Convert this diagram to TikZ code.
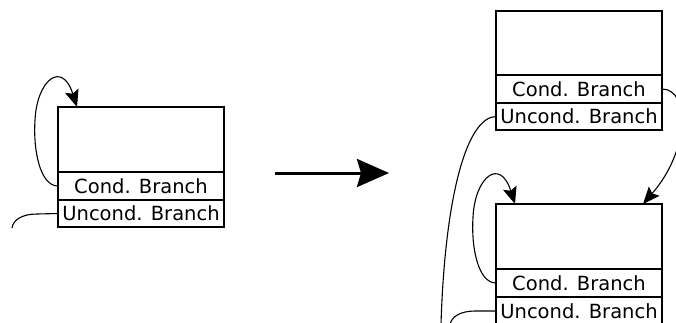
\documentclass[tikz,border=0pt]{standalone}
\usepackage{fontspec}
\setmainfont{DejaVu Sans}
\usetikzlibrary{arrows.meta}
\begin{document}
\begin{tikzpicture}[x=1pt,y=-1pt,
  cell/.style={draw, rectangle, line width=1.3pt, minimum width=166pt, inner sep=0pt, outer sep=0pt, anchor=north west, font=\fontsize{19.5}{22}\selectfont},
  link/.style={line width=1.1pt},
  tip/.style={-{Stealth[length=17pt,width=14pt,inset=3pt]}}]
\useasboundingbox (0,0) rectangle (676,322);
\clip (0,0) rectangle (676,322);
% left block
\node[cell, minimum height=65pt] (mainA) at (58,107) {};
\node[cell, minimum height=28pt] (condA) at (58,172) {Cond. Branch};
\node[cell, minimum height=27pt] (uncA) at (58,200) {Uncond. Branch};
% right top block
\node[cell, minimum height=64pt] (mainB) at (496,11) {};
\node[cell, minimum height=28pt] (condB) at (496,75) {Cond. Branch};
\node[cell, minimum height=27pt] (uncB) at (496,103) {Uncond. Branch};
% right bottom block
\node[cell, minimum height=65pt] (mainC) at (496,204) {};
\node[cell, minimum height=28pt] (condC) at (496,269) {Cond. Branch};
\node[cell, minimum height=28pt] (uncC) at (496,297) {Uncond. Branch};
% free ends
\coordinate (endA) at (12,228);
\coordinate (endB) at (441,324);
\coordinate (endC) at (450,325);
\coordinate (arrS) at (275,173);
\coordinate (arrE) at (389,173);
% left connectors
\draw[link, tip] (condA.west) .. controls (40,186) and (33,150) .. (35,120)
  .. controls (37,80) and (62,60) .. ([xshift=19pt]mainA.north west);
\draw[link] (uncA.west) -- (37,214) .. controls (22,214) and (13,220) .. (endA);
% big arrow
\draw[line width=3pt, -{Stealth[length=32pt,width=28pt,inset=4pt]}] (arrS) -- (arrE);
% right connectors
\draw[link, tip] (condB.east) .. controls (690,89) and (690,150) .. ([xshift=-19pt]mainC.north east);
\draw[link] (uncB.west) .. controls (467,117) and (445,195) .. (endB);
\draw[link, tip] (condC.west) .. controls (478,283) and (471,247) .. (473,217)
  .. controls (475,177) and (500,157) .. ([xshift=19pt]mainC.north west);
\draw[link] (uncC.west) -- (475,311) .. controls (460,311) and (451,317) .. (endC);
\end{tikzpicture}
\end{document}
